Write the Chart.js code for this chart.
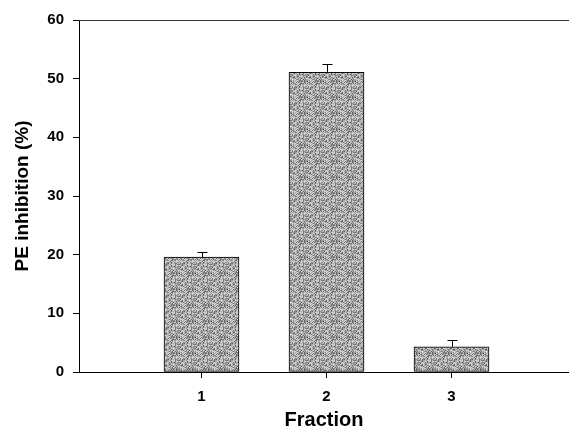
<!DOCTYPE html>
<html>
<head>
<meta charset="utf-8">
<script src="https://cdn.jsdelivr.net/npm/chart.js@4.4.1/dist/chart.umd.min.js"></script>
<style>
  html, body { margin: 0; padding: 0; background: #ffffff; }
  #wrap { width: 569px; height: 430px; position: relative; }
</style>
</head>
<body>
<div id="wrap"><canvas id="chart" width="569" height="430"></canvas></div>
<script>
// ===========================
// Data
// ===========================

const fractions = [1, 2, 3];
const inhibition = [19.6, 51.1, 4.3];
const errorUp = [0.85, 1.4, 1.15];
const yTicks = [0, 10, 20, 30, 40, 50, 60];

const FONT = "'Liberation Sans', Arial, sans-serif";

// ===========================
// Stipple fill for the bars
// ===========================

function makeStipple() {
  const c = document.createElement("canvas");
  c.width = 16;
  c.height = 16;
  const g = c.getContext("2d");
  const img = g.createImageData(16, 16);
  for (let y = 0; y < 16; y++) {
    for (let x = 0; x < 16; x++) {
      // simple fixed hash, gives a grainy grey texture
      let h = (x * 374761393 + y * 668265263) ^ (x * y * 2246822519);
      h = (h ^ (h >>> 13)) * 1274126177;
      h = (h ^ (h >>> 16)) >>> 0;
      const v = 95 + (h % 130);
      const i = (y * 16 + x) * 4;
      img.data[i] = v;
      img.data[i + 1] = v;
      img.data[i + 2] = v;
      img.data[i + 3] = 255;
    }
  }
  g.putImageData(img, 0, 0);
  return g.createPattern(c, "repeat");
}

const stipple = makeStipple();

// ===========================
// Plugins
// ===========================

const errorBars = {
  id: "errorBars",
  afterDatasetsDraw(chart) {
    const ctx = chart.ctx;
    const meta = chart.getDatasetMeta(0);
    const yScale = chart.scales.y;
    ctx.save();
    ctx.strokeStyle = "#000000";
    ctx.lineWidth = 1;
    meta.data.forEach((bar, i) => {
      const x = Math.round(bar.x) + 0.5;
      const yTop = yScale.getPixelForValue(inhibition[i] + errorUp[i]);
      ctx.beginPath();
      ctx.moveTo(x, bar.y);
      ctx.lineTo(x, yTop);
      ctx.moveTo(x - 5, Math.round(yTop) + 0.5);
      ctx.lineTo(x + 5, Math.round(yTop) + 0.5);
      ctx.stroke();
    });
    ctx.restore();
  },
};

const topFrame = {
  id: "topFrame",
  afterDraw(chart) {
    const { ctx, chartArea } = chart;
    ctx.save();
    ctx.strokeStyle = "#333333";
    ctx.lineWidth = 1;
    ctx.beginPath();
    ctx.moveTo(chartArea.left, chartArea.top + 0.5);
    ctx.lineTo(chartArea.right, chartArea.top + 0.5);
    ctx.stroke();
    ctx.restore();
  },
};

// ===========================
// Chart
// ===========================

const ctx = document.getElementById("chart").getContext("2d");

new Chart(ctx, {
  type: "bar",
  data: {
    datasets: [
      {
        data: fractions.map((f, i) => ({ x: f, y: inhibition[i] })),
        backgroundColor: stipple,
        borderColor: "#000000",
        borderWidth: 1,
        borderSkipped: false,
        barThickness: 75,
      },
    ],
  },
  options: {
    responsive: false,
    animation: false,
    layout: { padding: { top: 20, right: 0, left: 0, bottom: 0 } },
    plugins: {
      legend: { display: false },
      tooltip: { enabled: false },
    },
    scales: {
      x: {
        type: "linear",
        min: 0.02,
        max: 3.94,
        offset: false,
        afterBuildTicks: (scale) => {
          scale.ticks = fractions.map((v) => ({ value: v }));
        },
        afterFit: (scale) => {
          scale.height = 58;
        },
        grid: {
          offset: false,
          drawOnChartArea: false,
          tickLength: 6,
          tickColor: "#000000",
        },
        border: { display: true, color: "#000000", width: 1 },
        ticks: {
          padding: 10,
          color: "#000000",
          font: { family: FONT, size: 15, weight: "bold" },
          callback: (v) => String(v),
        },
        title: {
          display: true,
          text: "Fraction",
          color: "#000000",
          font: { family: FONT, size: 20, weight: "bold", lineHeight: 1 },
          padding: { top: 0, bottom: 0 },
        },
      },
      y: {
        min: 0,
        max: 60,
        afterBuildTicks: (scale) => {
          scale.ticks = yTicks.map((v) => ({ value: v }));
        },
        afterFit: (scale) => {
          scale.width = 79;
        },
        grid: {
          drawOnChartArea: false,
          tickLength: 6,
          tickColor: "#000000",
        },
        border: { display: true, color: "#000000", width: 1 },
        ticks: {
          padding: 9,
          color: "#000000",
          font: { family: FONT, size: 15, weight: "bold" },
        },
        title: {
          display: true,
          text: "PE inhibition (%)",
          color: "#000000",
          font: { family: FONT, size: 19, weight: "bold", lineHeight: 1 },
          padding: { top: 13, bottom: 0 },
        },
      },
    },
  },
  plugins: [errorBars, topFrame],
});
</script>
</body>
</html>
